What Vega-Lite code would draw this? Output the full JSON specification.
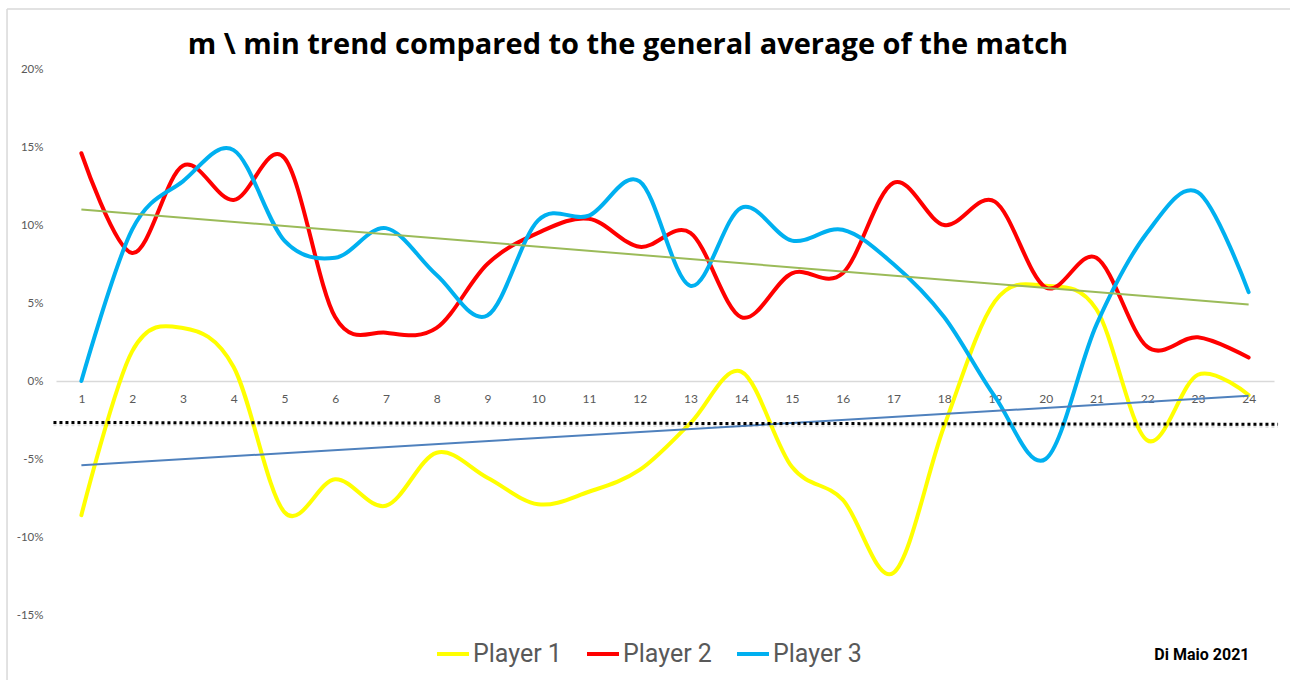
{
  "$schema": "https://vega.github.io/schema/vega-lite/v6.json",
  "width": 1218,
  "height": 546,
  "autosize": "none",
  "padding": {"left": 56, "top": 69, "right": 16, "bottom": 65},
  "background": "white",
  "config": {"view": {"stroke": null}, "font": "Roboto"},
  "title": {
    "text": "m \\ min trend compared to the general average of the match",
    "font": "Open Sans",
    "fontSize": 29,
    "fontWeight": "bold",
    "color": "#000000",
    "anchor": "middle",
    "dx": -37,
    "dy": 56,
    "offset": 4
  },
  "datasets": {
    "players": [
      {"minute": 1, "player": "Player 1", "value": -8.6},
      {"minute": 2, "player": "Player 1", "value": 1.9},
      {"minute": 3, "player": "Player 1", "value": 3.4},
      {"minute": 4, "player": "Player 1", "value": 0.9},
      {"minute": 5, "player": "Player 1", "value": -8.4},
      {"minute": 6, "player": "Player 1", "value": -6.3},
      {"minute": 7, "player": "Player 1", "value": -8.0},
      {"minute": 8, "player": "Player 1", "value": -4.6},
      {"minute": 9, "player": "Player 1", "value": -6.2},
      {"minute": 10, "player": "Player 1", "value": -7.9},
      {"minute": 11, "player": "Player 1", "value": -7.1},
      {"minute": 12, "player": "Player 1", "value": -5.7},
      {"minute": 13, "player": "Player 1", "value": -2.7},
      {"minute": 14, "player": "Player 1", "value": 0.6},
      {"minute": 15, "player": "Player 1", "value": -5.5},
      {"minute": 16, "player": "Player 1", "value": -7.6},
      {"minute": 17, "player": "Player 1", "value": -12.3},
      {"minute": 18, "player": "Player 1", "value": -2.9},
      {"minute": 19, "player": "Player 1", "value": 5.1},
      {"minute": 20, "player": "Player 1", "value": 6.1},
      {"minute": 21, "player": "Player 1", "value": 4.6},
      {"minute": 22, "player": "Player 1", "value": -3.8},
      {"minute": 23, "player": "Player 1", "value": 0.4},
      {"minute": 24, "player": "Player 1", "value": -0.9},
      {"minute": 1, "player": "Player 2", "value": 14.6},
      {"minute": 2, "player": "Player 2", "value": 8.2},
      {"minute": 3, "player": "Player 2", "value": 13.8},
      {"minute": 4, "player": "Player 2", "value": 11.6},
      {"minute": 5, "player": "Player 2", "value": 14.3},
      {"minute": 6, "player": "Player 2", "value": 4.1},
      {"minute": 7, "player": "Player 2", "value": 3.1},
      {"minute": 8, "player": "Player 2", "value": 3.4},
      {"minute": 9, "player": "Player 2", "value": 7.5},
      {"minute": 10, "player": "Player 2", "value": 9.5},
      {"minute": 11, "player": "Player 2", "value": 10.4},
      {"minute": 12, "player": "Player 2", "value": 8.6},
      {"minute": 13, "player": "Player 2", "value": 9.5},
      {"minute": 14, "player": "Player 2", "value": 4.1},
      {"minute": 15, "player": "Player 2", "value": 6.9},
      {"minute": 16, "player": "Player 2", "value": 6.9},
      {"minute": 17, "player": "Player 2", "value": 12.7},
      {"minute": 18, "player": "Player 2", "value": 10.0},
      {"minute": 19, "player": "Player 2", "value": 11.5},
      {"minute": 20, "player": "Player 2", "value": 6.0},
      {"minute": 21, "player": "Player 2", "value": 7.9},
      {"minute": 22, "player": "Player 2", "value": 2.2},
      {"minute": 23, "player": "Player 2", "value": 2.8},
      {"minute": 24, "player": "Player 2", "value": 1.5},
      {"minute": 1, "player": "Player 3", "value": 0.0},
      {"minute": 2, "player": "Player 3", "value": 9.7},
      {"minute": 3, "player": "Player 3", "value": 12.8},
      {"minute": 4, "player": "Player 3", "value": 14.8},
      {"minute": 5, "player": "Player 3", "value": 9.0},
      {"minute": 6, "player": "Player 3", "value": 7.9},
      {"minute": 7, "player": "Player 3", "value": 9.8},
      {"minute": 8, "player": "Player 3", "value": 6.8},
      {"minute": 9, "player": "Player 3", "value": 4.2},
      {"minute": 10, "player": "Player 3", "value": 10.3},
      {"minute": 11, "player": "Player 3", "value": 10.6},
      {"minute": 12, "player": "Player 3", "value": 12.8},
      {"minute": 13, "player": "Player 3", "value": 6.1},
      {"minute": 14, "player": "Player 3", "value": 11.1},
      {"minute": 15, "player": "Player 3", "value": 9.0},
      {"minute": 16, "player": "Player 3", "value": 9.7},
      {"minute": 17, "player": "Player 3", "value": 7.5},
      {"minute": 18, "player": "Player 3", "value": 4.1},
      {"minute": 19, "player": "Player 3", "value": -1.0},
      {"minute": 20, "player": "Player 3", "value": -5.0},
      {"minute": 21, "player": "Player 3", "value": 3.6},
      {"minute": 22, "player": "Player 3", "value": 9.5},
      {"minute": 23, "player": "Player 3", "value": 12.1},
      {"minute": 24, "player": "Player 3", "value": 5.7}
    ]
  },
  "layer": [
    {
      "description": "light grey chart-area frame, left and top edges",
      "data": {"values": [{}]},
      "mark": {"type": "rule", "color": "#d9d9d9", "strokeWidth": 1.5, "clip": false},
      "encoding": {
        "x": {"datum": -0.465},
        "y": {"datum": 23.85},
        "y2": {"datum": -25}
      }
    },
    {
      "data": {"values": [{}]},
      "mark": {"type": "rule", "color": "#d9d9d9", "strokeWidth": 1.5, "clip": false},
      "encoding": {
        "x": {"datum": -0.465},
        "x2": {"datum": 26},
        "y": {"datum": 23.85}
      }
    },
    {
      "data": {"name": "players"},
      "mark": {"type": "line", "interpolate": "cardinal", "strokeWidth": 4, "strokeCap": "round", "clip": false},
      "encoding": {
        "x": {
          "field": "minute",
          "type": "quantitative",
          "scale": {"domain": [0.5, 24.5], "nice": false, "zero": false},
          "axis": {
            "orient": "bottom",
            "offset": -234,
            "values": [1, 2, 3, 4, 5, 6, 7, 8, 9, 10, 11, 12, 13, 14, 15, 16, 17, 18, 19, 20, 21, 22, 23, 24],
            "title": null,
            "grid": false,
            "ticks": false,
            "tickSize": 0,
            "domainColor": "#d9d9d9",
            "domainWidth": 1.3,
            "labelPadding": 12,
            "labelFont": "Lato",
            "labelFontSize": 12,
            "labelColor": "#595959",
            "labelFlush": false,
            "labelOverlap": false,
            "labelBound": false
          }
        },
        "y": {
          "field": "value",
          "type": "quantitative",
          "scale": {"domain": [-15, 20], "nice": false, "zero": false},
          "axis": {
            "values": [-15, -10, -5, 0, 5, 10, 15, 20],
            "labelExpr": "datum.value + '%'",
            "title": null,
            "grid": false,
            "domain": false,
            "ticks": false,
            "tickSize": 0,
            "labelPadding": 13,
            "labelFont": "Lato",
            "labelFontSize": 11.5,
            "labelColor": "#595959"
          }
        },
        "color": {
          "field": "player",
          "type": "nominal",
          "scale": {"domain": ["Player 1", "Player 2", "Player 3"], "range": ["#FFFF00", "#FF0000", "#00B0F0"]},
          "legend": {
            "orient": "none",
            "legendX": 379,
            "legendY": 567,
            "direction": "horizontal",
            "title": null,
            "symbolType": "stroke",
            "symbolSize": 1024,
            "symbolStrokeWidth": 4,
            "labelFont": "Roboto",
            "labelFontSize": 25,
            "labelColor": "#595959",
            "labelOffset": 2,
            "columnPadding": 17
          }
        }
      }
    },
    {
      "description": "linear trend of Player 2",
      "data": {"values": [{"minute": 1, "value": 11.0}, {"minute": 24, "value": 4.9}]},
      "mark": {"type": "line", "color": "#9BBB59", "strokeWidth": 2},
      "encoding": {
        "x": {"field": "minute", "type": "quantitative"},
        "y": {"field": "value", "type": "quantitative"}
      }
    },
    {
      "description": "linear trend of Player 1",
      "data": {"values": [{"minute": 1, "value": -5.4}, {"minute": 24, "value": -0.95}]},
      "mark": {"type": "line", "color": "#4F81BD", "strokeWidth": 2},
      "encoding": {
        "x": {"field": "minute", "type": "quantitative"},
        "y": {"field": "value", "type": "quantitative"}
      }
    },
    {
      "description": "soft shadow under the match average line",
      "data": {"values": [{}]},
      "mark": {"type": "rule", "color": "#000000", "opacity": 0.12, "strokeWidth": 3, "strokeDash": [3, 3], "clip": false},
      "encoding": {
        "x": {"datum": 0.45},
        "x2": {"datum": 24.58},
        "y": {"datum": -2.8},
        "y2": {"datum": -2.91}
      }
    },
    {
      "description": "general average of the match",
      "data": {"values": [{}]},
      "mark": {"type": "rule", "color": "#000000", "strokeWidth": 3, "strokeDash": [3, 3], "clip": false},
      "encoding": {
        "x": {"datum": 0.45},
        "x2": {"datum": 24.58},
        "y": {"datum": -2.66},
        "y2": {"datum": -2.77}
      }
    },
    {
      "data": {"values": [{"credit": "Di Maio 2021"}]},
      "mark": {"type": "text", "font": "Roboto", "fontSize": 16, "fontWeight": "bold", "color": "#000000", "align": "center", "baseline": "middle", "clip": false},
      "encoding": {
        "x": {"datum": 23.08},
        "y": {"datum": -17.56},
        "text": {"field": "credit"}
      }
    }
  ]
}
